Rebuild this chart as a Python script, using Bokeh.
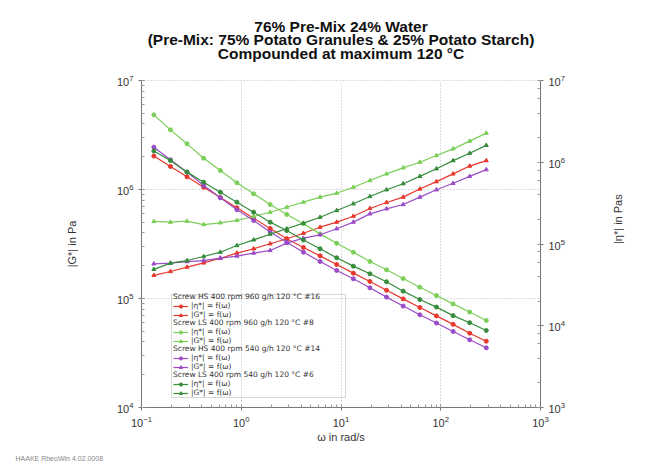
import math
from bokeh.plotting import figure
from bokeh.models import (Range1d, LogScale, LogAxis, Legend, LegendItem, Title, BoxAnnotation)
from bokeh.embed import file_html
from bokeh.resources import INLINE

# angular frequency (rad/s)
omega = [0.133, 0.195, 0.286, 0.420, 0.617, 0.905, 1.33, 1.95, 2.86, 4.20, 6.17,
         9.05, 13.3, 19.5, 28.6, 42.0, 61.7, 90.5, 133.0, 195.0, 286.0]

# Screw HS 400 rpm 960 g/h #16
eta_hs960 = [1.19e6, 8.87e5, 6.63e5, 4.96e5, 3.71e5, 2.77e5, 2.07e5, 1.55e5, 1.16e5, 9.06e4, 7.16e4,
             5.61e4, 4.40e4, 3.48e4, 2.72e4, 2.13e4, 1.67e4, 1.32e4, 1.04e4, 8.11e3, 6.47e3]
g_hs960 = [1.63e5, 1.77e5, 1.94e5, 2.12e5, 2.34e5, 2.61e5, 2.86e5, 3.18e5, 3.53e5, 3.97e5, 4.51e5,
           5.02e5, 5.69e5, 6.70e5, 7.60e5, 8.51e5, 1.01e6, 1.18e6, 1.39e6, 1.64e6, 1.84e6]
# Screw LS 400 rpm 960 g/h #8
eta_ls960 = [3.80e6, 2.49e6, 1.68e6, 1.12e6, 7.93e5, 5.60e5, 4.11e5, 3.04e5, 2.30e5, 1.77e5, 1.33e5,
             1.02e5, 7.94e4, 6.11e4, 4.83e4, 3.78e4, 2.96e4, 2.34e4, 1.85e4, 1.47e4, 1.16e4]
g_ls960 = [5.09e5, 5.01e5, 5.12e5, 4.77e5, 4.95e5, 5.20e5, 5.65e5, 6.19e5, 6.88e5, 7.65e5, 8.51e5,
           9.25e5, 1.05e6, 1.21e6, 1.39e6, 1.58e6, 1.78e6, 2.05e6, 2.36e6, 2.78e6, 3.29e6]
# Screw HS 400 rpm 540 g/h #14
eta_hs540 = [1.53e6, 1.07e6, 7.57e5, 5.20e5, 3.67e5, 2.62e5, 1.94e5, 1.40e5, 1.05e5, 7.94e4, 6.11e4,
             4.74e4, 3.75e4, 2.91e4, 2.24e4, 1.74e4, 1.36e4, 1.08e4, 8.51e3, 6.73e3, 5.37e3]
g_hs540 = [2.08e5, 2.11e5, 2.18e5, 2.23e5, 2.35e5, 2.45e5, 2.61e5, 2.76e5, 3.22e5, 3.58e5, 3.84e5,
           4.36e5, 5.02e5, 5.98e5, 6.65e5, 7.28e5, 8.51e5, 9.94e5, 1.14e6, 1.32e6, 1.52e6]
# Screw LS 400 rpm 540 g/h #6
eta_ls540 = [1.37e6, 1.05e6, 7.57e5, 5.71e5, 4.30e5, 3.25e5, 2.45e5, 1.85e5, 1.46e5, 1.12e5, 8.73e4,
             6.78e4, 5.36e4, 4.32e4, 3.45e4, 2.65e4, 2.09e4, 1.69e4, 1.33e4, 1.09e4, 8.75e3]
g_ls540 = [1.85e5, 2.11e5, 2.23e5, 2.43e5, 2.66e5, 3.06e5, 3.45e5, 3.89e5, 4.36e5, 4.91e5, 5.57e5,
           6.41e5, 7.40e5, 8.63e5, 9.94e5, 1.13e6, 1.32e6, 1.55e6, 1.84e6, 2.15e6, 2.54e6]

headers = ["Screw HS 400 rpm 960 g/h 120 °C #16",
           "Screw LS 400 rpm 960 g/h 120 °C #8",
           "Screw HS 400 rpm 540 g/h 120 °C #14",
           "Screw LS 400 rpm 540 g/h 120 °C #6"]
colors = ["#e8372c", "#7bcf58", "#9a4cc8", "#358c3a"]
eta_series = [eta_hs960, eta_ls960, eta_hs540, eta_ls540]
g_series = [g_hs960, g_ls960, g_hs540, g_ls540]
eta_label = "|η*| = f(ω)"
g_label = "|G*| = f(ω)"
title_lines = ["76% Pre-Mix 24% Water",
               "(Pre-Mix: 75% Potato Granules & 25% Potato Starch)",
               "Compounded at maximum 120 °C"]
footer = "HAAKE RheoWin 4.02.0008"

FONT = "Liberation Sans"
LFONT = "DejaVu Sans"

p = figure(width=663, height=468, x_axis_type="log", y_axis_type="log",
           x_range=Range1d(0.1, 1000), y_range=Range1d(1e4, 1e7),
           output_backend="svg", toolbar_location=None,
           min_border_left=141, min_border_right=123, min_border_top=80, min_border_bottom=61,
           background_fill_color="white", border_fill_color="white")
p.title = None
p.extra_y_ranges = {"eta": Range1d(1e3, 1e7)}
p.extra_y_scales = {"eta": LogScale()}

# spacer between frame and the title block (first "above" panel sits next to the frame)
p.add_layout(Title(text=" ", text_font_size="1px", standoff=16), "above")
# title lines, from the frame outward
for txt, so in zip(reversed(title_lines), [0, -10, -2]):
    p.add_layout(Title(text=txt, align="center", text_font=FONT, text_font_size="15.5px",
                       text_font_style="bold", text_color="#111111", standoff=so), "above")

raxis = LogAxis(y_range_name="eta")
p.add_layout(raxis, "right")

for ax in [p.xaxis[0], p.yaxis[0], raxis]:
    ax.axis_line_color = "#777777"
    ax.major_tick_line_color = "#777777"
    ax.minor_tick_line_color = "#999999"
    ax.major_tick_in = 0
    ax.major_tick_out = 3
    ax.minor_tick_in = 3
    ax.minor_tick_out = 0
    ax.major_label_text_font = FONT
    ax.major_label_text_font_size = "11px"
    ax.major_label_text_color = "#333333"
    ax.axis_label_text_font = FONT
    ax.axis_label_text_font_size = "11px"
    ax.axis_label_text_font_style = "normal"
    ax.axis_label_text_color = "#333333"

p.xaxis[0].axis_label = "ω in rad/s"
p.xaxis[0].axis_label_standoff = 1
p.yaxis[0].axis_label = "|G*| in Pa"
p.yaxis[0].axis_label_standoff = 36
raxis.axis_label = "|η*| in Pas"
raxis.axis_label_standoff = 50
try:
    raxis.axis_label_orientation = math.pi / 2
except Exception:
    pass

p.add_layout(Title(text=footer, align="left", offset=-126, text_font=FONT, text_font_size="7px",
                   text_font_style="normal", text_color="#888888", standoff=14), "below")

p.xgrid.grid_line_color = "#bbbbbb"
p.xgrid.grid_line_dash = "1 2"
p.ygrid.grid_line_color = "#bbbbbb"
p.ygrid.grid_line_dash = "1 2"
p.outline_line_color = "#bbbbbb"
p.outline_line_dash = "1 2"

legend_y = [88, 62, 36, 10]
for k in range(4):
    c = colors[k]
    r1 = p.line(omega, eta_series[k], y_range_name="eta", line_color=c, line_width=1.2)
    s1 = p.scatter(omega, eta_series[k], y_range_name="eta", marker="circle", size=4,
                   fill_color=c, line_color=c)
    r2 = p.line(omega, g_series[k], line_color=c, line_width=1.2)
    s2 = p.scatter(omega, g_series[k], marker="triangle", size=4, fill_color=c, line_color=c)
    leg = Legend(items=[LegendItem(label=eta_label, renderers=[r1, s1]),
                        LegendItem(label=g_label, renderers=[r2, s2])],
                 title=headers[k], location=(32, legend_y[k]),
                 border_line_alpha=0, background_fill_alpha=0, padding=0, margin=0, spacing=0,
                 glyph_width=15, glyph_height=8, label_height=8, label_standoff=3,
                 label_text_font=LFONT, label_text_font_size="7.5px", label_text_color="#333333",
                 label_text_line_height=1.0,
                 title_text_font=LFONT, title_text_font_size="7.5px", title_text_font_style="normal",
                 title_text_color="#333333", title_standoff=0)
    p.add_layout(leg)

legend_box = BoxAnnotation(left=30, right=204, bottom=10, top=113,
                           left_units="screen", right_units="screen",
                           bottom_units="screen", top_units="screen",
                           fill_alpha=0, line_color="#777777", line_width=1)
p.add_layout(legend_box)

open("out.html", "w").write(file_html(p, INLINE))
